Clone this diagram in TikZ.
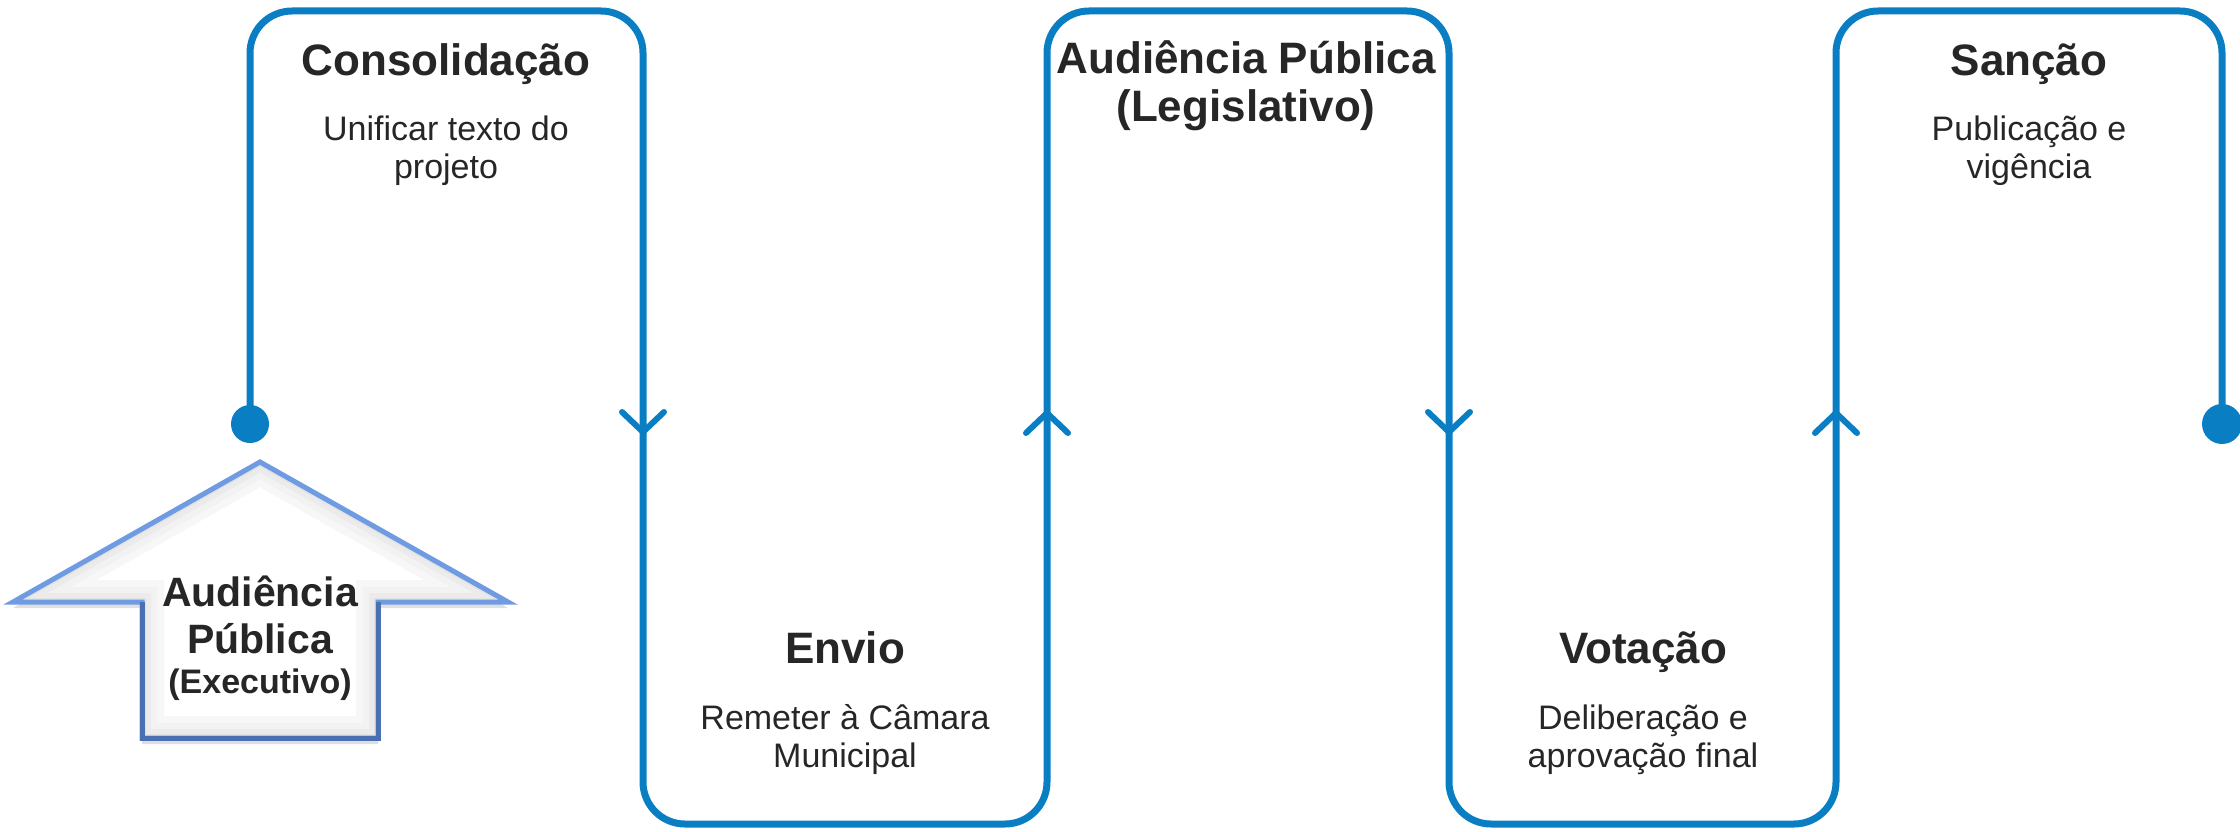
\documentclass[tikz,border=0pt]{standalone}
\usepackage{fontspec}
\setmainfont{Liberation Sans}
\usetikzlibrary{shadows}
\definecolor{flow}{RGB}{10,126,195}
\definecolor{ink}{RGB}{38,38,38}
\definecolor{arrowlight}{RGB}{110,155,225}
\definecolor{arrowdark}{RGB}{72,112,178}
\begin{document}
\begin{tikzpicture}[x=1pt,y=-1pt,
  title/.style={anchor=base, inner sep=0pt, text=ink, font=\fontsize{44}{50}\selectfont\bfseries},
  sub/.style={anchor=base, inner sep=0pt, text=ink, font=\fontsize{34}{40}\selectfont},
  atitle/.style={anchor=base, inner sep=0pt, text=ink, font=\fontsize{41}{48}\selectfont\bfseries},
  asub/.style={anchor=base, inner sep=0pt, text=ink, font=\fontsize{34}{40}\selectfont\bfseries},
  chev/.style={draw=flow, line width=6pt, line cap=round, line join=round},
  flowdot/.style={circle, fill=flow, inner sep=0pt, minimum size=38pt},
  flowline/.style={draw=flow, line width=7pt, rounded corners=42pt}
]
\useasboundingbox (0,0) rectangle (2240,832);

% dots
\coordinate (dLc) at (250,424);
\coordinate (dRc) at (2222,424);
% main flow line
\draw[flowline] (dLc) -- (250,11) -- (643,11) -- (643,824) -- (1047,824) -- (1047,11)
  -- (1449,11) -- (1449,824) -- (1836,824) -- (1836,11) -- (2222,11) -- (dRc);
\node[flowdot] (dL) at (dLc) {};
\node[flowdot, minimum size=40pt] (dR) at (dRc) {};

% chevrons
\draw[chev] (622,412) -- (643,432) -- (664,412);
\draw[chev] (1026,433) -- (1047,413) -- (1068,433);
\draw[chev] (1428,412) -- (1449,432) -- (1470,412);
\draw[chev] (1815,433) -- (1836,413) -- (1857,433);

% up arrow (Executivo)
\path[fill=white, drop shadow={opacity=0.25, shadow xshift=0pt, shadow yshift=-6pt}]
  (260,462) -- (508,602) -- (378,602) -- (378,738) -- (142,738) -- (142,602) -- (13,602) -- cycle;
\begin{scope}
  \clip (260,462) -- (508,602) -- (378,602) -- (378,738) -- (142,738) -- (142,602) -- (13,602) -- cycle;
  \draw[black!3, line width=44pt, line join=miter]
    (260,462) -- (508,602) -- (378,602) -- (378,738) -- (142,738) -- (142,602) -- (13,602) -- cycle;
  \draw[black!5, line width=30pt, line join=miter]
    (260,462) -- (508,602) -- (378,602) -- (378,738) -- (142,738) -- (142,602) -- (13,602) -- cycle;
  \draw[black!8, line width=18pt, line join=miter]
    (260,462) -- (508,602) -- (378,602) -- (378,738) -- (142,738) -- (142,602) -- (13,602) -- cycle;
  \draw[black!11, line width=8pt, line join=miter]
    (260,462) -- (508,602) -- (378,602) -- (378,738) -- (142,738) -- (142,602) -- (13,602) -- cycle;
\end{scope}
\draw[arrowlight, line width=5pt, line join=miter]
  (260,462) -- (508,602) -- (378,602) -- (378,738) -- (142,738) -- (142,602) -- (13,602) -- cycle;
\draw[arrowdark, line width=5pt, line join=miter]
  (378,602) -- (378,738) -- (142,738) -- (142,602);

\node[atitle] (ex1) at (260,606) {Audiência};
\node[atitle] (ex2) at (260,653) {Pública};
\node[asub] (ex3) at (260,693) {(Executivo)};

% box 1
\node[title] (c1) at (446,76) {Consolidação};
\node[sub] (c1a) at (446,140) {Unificar texto do};
\node[sub] (c1b) at (446,178) {projeto};
% box 2
\node[title] (c2) at (845,663) {Envio};
\node[sub] (c2a) at (845,729) {Remeter à Câmara};
\node[sub] (c2b) at (845,767) {Municipal};
% box 3
\node[title] (c3) at (1246,74) {Audiência Pública};
\node[title] (c3b) at (1246,122) {(Legislativo)};
% box 4
\node[title] (c4) at (1643,663) {Votação};
\node[sub] (c4a) at (1643,729) {Deliberação e};
\node[sub] (c4b) at (1643,767) {aprovação final};
% box 5
\node[title] (c5) at (2029,76) {Sanção};
\node[sub] (c5a) at (2029,140) {Publicação e};
\node[sub] (c5b) at (2029,178) {vigência};
\end{tikzpicture}
\end{document}
